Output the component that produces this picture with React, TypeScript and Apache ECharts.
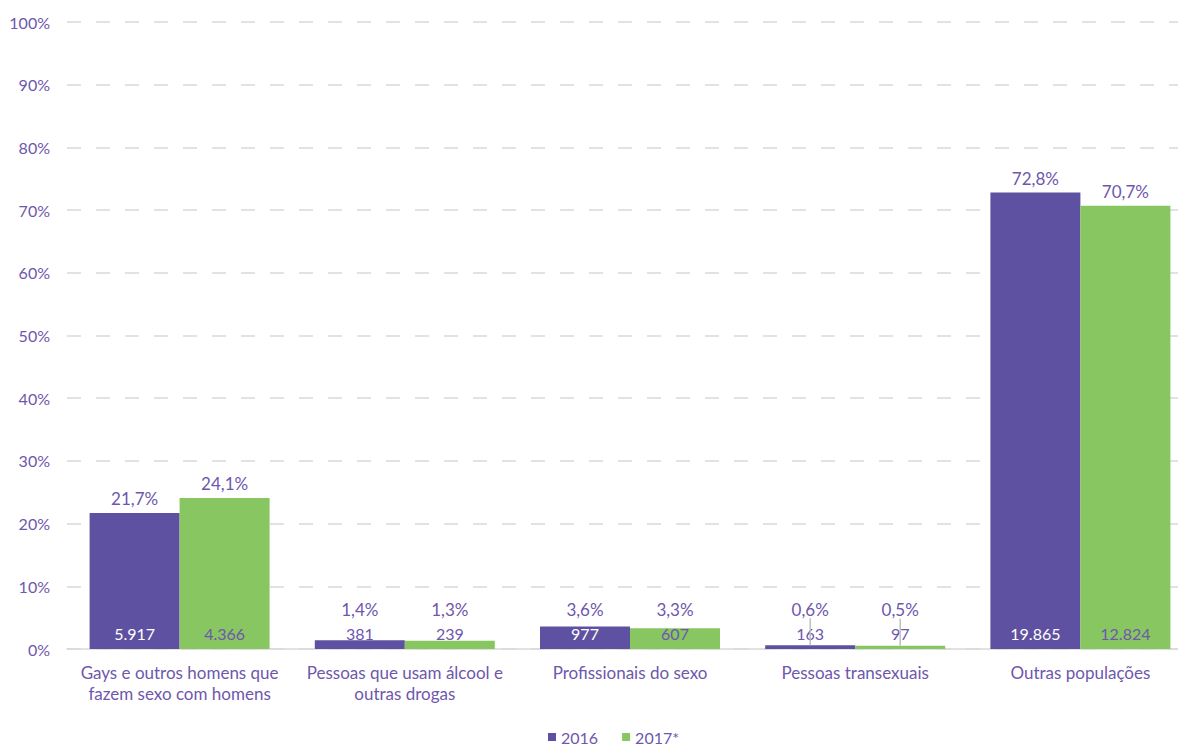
import React, { useEffect, useRef } from "react";
import * as echarts from "echarts";

const categories = [
  "Gays e outros homens que\nfazem sexo com homens",
  "Pessoas que usam álcool e\noutras drogas",
  "Profissionais do sexo",
  "Pessoas transexuais",
  "Outras populações",
];
const pct2016 = [21.7, 1.4, 3.6, 0.6, 72.8];
const pct2017 = [24.1, 1.3, 3.3, 0.5, 70.7];
const count2016 = ["5.917", "381", "977", "163", "19.865"];
const count2017 = ["4.366", "239", "607", "97", "12.824"];
const leaderLineCategory = "Pessoas transexuais";

const PURPLE = "#5f51a1";
const GREEN = "#88c661";
const TEXT = "#6e57ad";
const FONT = "Lato";

export default function App() {
  const ref = useRef<HTMLDivElement>(null);
  useEffect(() => {
    if (!ref.current) return;
    const chart = echarts.init(ref.current, null, { renderer: "svg" });
    const pxPerPct = 627 / 100;
    const fmtPct = (v: number) => v.toFixed(1).replace(".", ",") + "%";

    const pctSeries = (name: string, stack: string, vals: number[]) => ({
      name: name,
      type: "bar",
      stack,
      barWidth: 90,
      barGap: 0,
      data: vals.map((v) => ({
        value: 0,
        label: {
          distance: Math.max(6, 31 - v * pxPerPct),
          formatter: fmtPct(v),
        },
      })),
      itemStyle: { color: "transparent" },
      label: {
        show: true,
        position: "top",
        color: TEXT,
        fontFamily: FONT,
        fontSize: 17,
      },
      silent: true,
    });

    const barSeries = (
      name: string,
      stack: string,
      vals: number[],
      counts: string[],
      color: string,
      innerColor: string
    ) => ({
      name,
      type: "bar",
      stack,
      barWidth: 90,
      barGap: 0,
      itemStyle: { color },
      data: vals.map((v, i) => ({
        value: v,
        label: {
          formatter: counts[i],
          color: v * pxPerPct > 20 ? innerColor : TEXT,
        },
      })),
      label: {
        show: true,
        position: "insideBottom",
        distance: 8,
        fontFamily: FONT,
        fontSize: 16,
      },
    });

    chart.setOption({
      animation: false,
      textStyle: { fontFamily: FONT },
      grid: { left: 67, right: 0, top: 22, bottom: 98 },
      legend: {
        data: ["2016", "2017*"],
        top: 724,
        left: 543,
        icon: "rect",
        itemWidth: 8,
        itemHeight: 8,
        itemGap: 24,
        textStyle: { color: TEXT, fontSize: 16, fontFamily: FONT },
      },
      xAxis: {
        type: "category",
        data: categories,
        axisTick: { show: false },
        axisLine: { lineStyle: { color: "#d9d9d9", width: 1.5 } },
        axisLabel: {
          interval: 0,
          color: TEXT,
          fontSize: 17,
          fontFamily: FONT,
          lineHeight: 21,
          margin: 13,
        },
      },
      yAxis: {
        type: "value",
        min: 0,
        max: 100,
        interval: 10,
        axisLabel: {
          formatter: "{value}%",
          color: TEXT,
          fontSize: 16,
          fontFamily: FONT,
          margin: 17,
        },
        axisLine: { show: false },
        axisTick: { show: false },
        splitLine: {
          lineStyle: { color: "#d9d9d9", width: 1.5, type: [14, 15] },
        },
      },
      series: [
        barSeries("2016", "a", pct2016, count2016, PURPLE, "#ffffff"),
        pctSeries("p2016", "a", pct2016),
        barSeries("2017*", "b", pct2017, count2017, GREEN, TEXT),
        pctSeries("p2017", "b", pct2017),
      ],
    });

    // leader lines for the labels of the thinnest bars, taken from the bar layout
    const idx = categories.indexOf(leaderLineCategory);
    const lines: any[] = [];
    [0, 2].forEach((si) => {
      const s: any = (chart as any).getModel().getSeriesByIndex(si);
      const lay = s && s.getData().getItemLayout(idx);
      if (!lay) return;
      const cx = lay.x + lay.width / 2;
      const top = Math.min(lay.y, lay.y + lay.height);
      lines.push({
        type: "line",
        shape: { x1: cx, y1: top, x2: cx, y2: top - 27 },
        style: { stroke: "#bfbfbf", lineWidth: 1.5 },
        z: 5,
      });
    });
    chart.setOption({ graphic: lines });

    return () => chart.dispose();
  }, []);

  return (
    <div
      style={{
        position: "absolute",
        left: 0,
        top: 0,
        width: 1178,
        height: 747,
        overflow: "hidden",
        background: "#fff",
      }}
    >
      <div ref={ref} style={{ width: 1193, height: 747 }} />
    </div>
  );
}
